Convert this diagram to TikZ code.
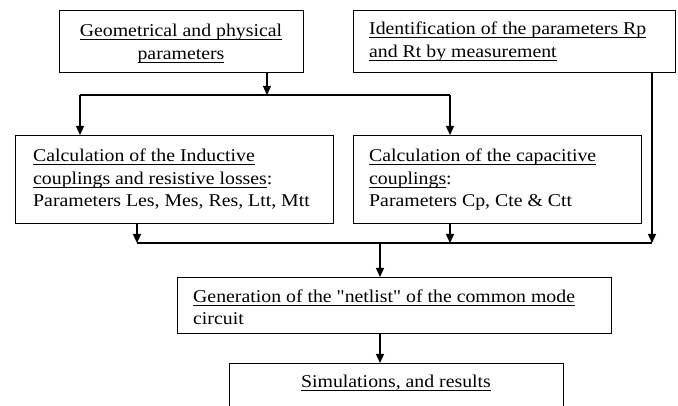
\documentclass[tikz,border=0pt]{standalone}
\usepackage{fontspec}
\setmainfont{Liberation Serif}[FakeStretch=1.1,Ligatures=TeXOff]
\usetikzlibrary{arrows.meta}
\newcommand\ulx[1]{\leavevmode\setbox0\hbox{#1}\rlap{\rule[-2.8pt]{\wd0}{0.9pt}}\box0}
\begin{document}
\begin{tikzpicture}[x=1pt,y=-1pt,
  box/.style={draw, line width=1.3pt, rectangle, inner sep=0pt, anchor=north west},
  txt/.style={anchor=base west, inner sep=0pt, font=\fontsize{18}{22}\selectfont},
  ctxt/.style={txt, anchor=base},
  ln/.style={line width=1.3pt},
  arr/.style={line width=1.3pt, -{Triangle[length=9pt,width=8pt]}}]
\useasboundingbox (0,0) rectangle (678,406);
\clip (0,0) rectangle (678,406);
% boxes
\node[box, minimum width=244pt, minimum height=62pt] (geo) at (59,10) {};
\node[box, minimum width=322pt, minimum height=62pt] (ident) at (353,10) {};
\node[box, minimum width=318pt, minimum height=88pt] (ind) at (15,135) {};
\node[box, minimum width=288pt, minimum height=88pt] (cap) at (353,135) {};
\node[box, minimum width=434pt, minimum height=56pt] (gen) at (177,277) {};
\node[box, minimum width=334pt, minimum height=60pt] (sim) at (229,363) {};
% texts
\node[ctxt] (t1) at (181,37) {\ulx{Geometrical and physical}};
\node[ctxt] (t2) at (181,60) {\ulx{parameters}};
\node[txt] (t3) at (369,35) {\ulx{Identification of the parameters Rp}};
\node[txt] (t4) at (369,58) {\ulx{and Rt by measurement}};
\node[txt] (t5) at (33,162) {\ulx{Calculation of the Inductive}};
\node[txt] (t6) at (33,185) {\ulx{couplings and resistive losses}:};
\node[txt] (t7) at (33,207) {Parameters Les, Mes, Res, Ltt, Mtt};
\node[txt] (t8) at (369,162) {\ulx{Calculation of the capacitive}};
\node[txt] (t9) at (369,185) {\ulx{couplings}:};
\node[txt] (t10) at (369,207) {Parameters Cp, Cte \& Ctt};
\node[txt] (t11) at (193,303) {\ulx{Generation of the "netlist" of the common mode}};
\node[txt] (t12) at (193,324) {circuit};
\node[ctxt] (t13) at (396,388) {\ulx{Simulations, and results}};
% junctions
\coordinate (j1) at (267,95);
\coordinate (ja) at (80,95);
\coordinate (jb) at (450,95);
\coordinate (k1) at (137,243);
\coordinate (k2) at (450,243);
\coordinate (k3) at (652,243);
\coordinate (k4) at (380,243);
% connectors
\draw[arr] (geo.south -| j1) -- (j1);
\draw[ln] (ja) -- (jb);
\draw[arr] (ja) -- (ja |- ind.north);
\draw[arr] (jb) -- (jb |- cap.north);
\draw[arr] (ind.south -| k1) -- (k1);
\draw[arr] (cap.south -| k2) -- (k2);
\draw[arr] (ident.south -| k3) -- (k3);
\draw[ln] (k1) -- (k3);
\draw[arr] (k4) -- (k4 |- gen.north);
\draw[arr] (gen.south -| k4) -- (k4 |- sim.north);
\end{tikzpicture}
\end{document}
